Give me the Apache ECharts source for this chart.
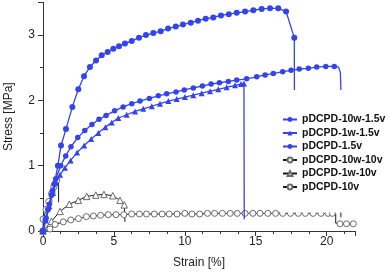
<!DOCTYPE html>
<html><head><meta charset="utf-8">
<script src="https://cdn.jsdelivr.net/npm/echarts@6/dist/echarts.min.js"></script>
<style>html,body{margin:0;padding:0;background:#fff}#c{width:390px;height:273px}</style>
</head><body><div id="c"></div>
<script>
const seriesNames = ['pDCPD-10w-1.5v','pDCPD-1w-1.5v','pDCPD-1.5v','pDCPD-10w-10v','pDCPD-1w-10v','pDCPD-10v'];
const xTicks = [0,5,10,15,20];
const yTicks = [0,1,2,3];

// pDCPD-10w-1.5v
const strainA = [0,0.17,0.35,0.6,0.8,1.05,1.27,1.62,2.07,2.49,2.89,3.31,3.74,4.14,4.56,4.96,5.36,5.78,6.26,6.77,7.26,7.78,8.30,8.82,9.36,9.87,10.42,10.93,11.47,12.01,12.55,13.10,13.66,14.25,14.83,15.42,16.01,16.59,17.14,17.72];
const stressA = [0,0.17,0.33,0.55,0.72,1.0,1.31,1.56,1.90,2.17,2.37,2.51,2.61,2.69,2.74,2.79,2.83,2.87,2.91,2.96,3.00,3.03,3.06,3.10,3.13,3.16,3.19,3.22,3.25,3.27,3.30,3.32,3.34,3.36,3.38,3.40,3.41,3.41,3.36,2.96];
const dropStrainA = [17.75];
const dropStressA = [0.3];

// pDCPD-1w-1.5v
const strainB = [0,0.2,0.45,0.7,0.92,1.2,1.55,1.95,2.4,2.9,3.4,3.9,4.4,4.85,5.31,5.90,6.49,7.07,7.67,8.25,8.84,9.43,10.01,10.60,11.19,11.78,12.36,12.95,13.54,13.96,14.17];
const stressB = [0,0.16,0.38,0.58,0.74,0.86,0.97,1.08,1.20,1.31,1.41,1.50,1.59,1.66,1.73,1.78,1.83,1.87,1.91,1.95,1.99,2.02,2.05,2.08,2.11,2.14,2.17,2.20,2.23,2.25,2.26];
const dropStrainB = [14.19];
const dropStressB = [0.18];

// pDCPD-1.5v
const strainC = [0,0.22,0.45,0.68,0.9,1.25,1.6,1.97,2.45,2.95,3.45,3.95,4.45,5.05,5.65,6.26,6.84,7.5,8.13,8.72,9.38,9.96,10.6,11.24,11.85,12.44,13.07,13.66,14.36,15.07,15.66,16.24,16.9,17.49,18.07,18.71,19.3,19.94,20.54];
const stressC = [0,0.2,0.41,0.62,0.8,1.0,1.15,1.29,1.43,1.54,1.63,1.71,1.77,1.84,1.90,1.95,1.99,2.03,2.07,2.10,2.13,2.16,2.19,2.22,2.25,2.27,2.29,2.31,2.33,2.36,2.39,2.41,2.44,2.46,2.48,2.49,2.51,2.52,2.52];
const dropStrainC = [20.85,20.97,21.0,21.0];
const dropStressC = [2.51,2.42,2.2,0.21];

// pDCPD-10w-10v
const strainD = [0,0.02,0.23,0.42,0.63,0.77,0.95];
const stressD = [0,0.18,0.33,0.45,0.58,0.68,0.78];
const dropStrainD = [1.1,1.1];
const dropStressD = [0.81,0.44];

// pDCPD-1w-10v
const strainE = [0,0.6,1.2,1.85,2.49,3.08,3.72,4.30,4.92,5.43,5.73];
const stressE = [0,0.15,0.30,0.41,0.47,0.53,0.55,0.56,0.54,0.47,0.40];
const dropStrainE = [5.78];
const dropStressE = [0.14];

// pDCPD-10v
const strainF = [0,0.49,0.85,1.43,1.96,2.5,3.06,3.55,4.06,4.6,5.15,5.7,6.25,6.8,7.3,7.85,8.4,8.9,9.45,10.0,10.5,11.05,11.6,12.1,12.65,13.2,13.7,14.25,14.8,15.3,15.85,16.4,16.9,17.45,18.0,18.5,19.05,19.6,20.1,20.4];
const stressF = [0,0.03,0.10,0.14,0.17,0.19,0.22,0.23,0.24,0.25,0.25,0.25,0.26,0.26,0.26,0.26,0.26,0.26,0.26,0.27,0.26,0.26,0.27,0.27,0.27,0.27,0.27,0.27,0.27,0.27,0.27,0.27,0.27,0.27,0.27,0.27,0.27,0.27,0.27,0.27];
const dropStrainF = [20.64,20.64];
const dropStressF = [0.27,0.12];
const afterStrainF = [20.94,21.4,21.88];
const afterStressF = [0.11,0.11,0.11];

function build(xs, ys, dx, dy, ax, ay) {
  const d = xs.map((x,i)=>[x, ys[i]]);
  (dx||[]).forEach((x,i)=>d.push({value:[x, dy[i]], symbol:'none'}));
  (ax||[]).forEach((x,i)=>d.push([x, ay[i]]));
  return d;
}

const BLUE = '#3343ee';
const BLACK = '#1a1a1a';
const GREY = '#6a6a6a';

function blueSeries(name, data, symbol, size) {
  return {name, type:'line', data, symbol, symbolSize:size, showSymbol:true, showAllSymbol:true,
    lineStyle:{color:BLUE, width:1.3}, itemStyle:{color:BLUE, borderWidth:0}, z:3};
}
function openSeries(name, data, symbol, size) {
  return {name, type:'line', data, symbol, symbolSize:size, showSymbol:true, showAllSymbol:true,
    lineStyle:{color:BLACK, width:1}, itemStyle:{color:'#fff', borderColor:GREY, borderWidth:1}, z:2};
}

const chart = echarts.init(document.getElementById('c'), null, {renderer:'canvas'});
chart.setOption({
  animation:false,
  backgroundColor:'#fff',
  grid:{left:43, right:35, top:2.4, bottom:42, outerBoundsMode:'none'},
  xAxis:{type:'value', min:0, max:22, interval:5,
    name:'Strain [%]', nameLocation:'middle', nameGap:26,
    nameTextStyle:{fontFamily:'Liberation Sans', fontSize:12, color:'#222'},
    axisLine:{lineStyle:{color:'#333', width:1}},
    axisTick:{show:true, inside:false, length:5, lineStyle:{color:'#333'}},
    minorTick:{show:true, splitNumber:4, length:3, lineStyle:{color:'#333'}},
    axisLabel:{margin:5, fontFamily:'Liberation Sans', fontSize:12, color:'#222', showMaxLabel:false,
      formatter:v=> xTicks.includes(v) ? String(v) : ''},
    splitLine:{show:false}},
  yAxis:{type:'value', min:0, max:3.5, interval:1,
    name:'Stress [MPa]', nameLocation:'middle', nameGap:28,
    nameTextStyle:{fontFamily:'Liberation Sans', fontSize:12, color:'#222'},
    axisLine:{show:true, lineStyle:{color:'#333', width:1}},
    axisTick:{show:true, inside:false, length:5, lineStyle:{color:'#333'}},
    minorTick:{show:true, splitNumber:2, length:3, lineStyle:{color:'#333'}},
    axisLabel:{margin:8, fontFamily:'Liberation Sans', fontSize:12, color:'#222', showMaxLabel:false,
      formatter:v=> yTicks.includes(v) ? String(v) : ''},
    splitLine:{show:false}},
  legend:{orient:'vertical', left:280, top:90, padding:[24,0,20,2], itemGap:2.5,
    itemWidth:14, itemHeight:6, backgroundColor:'#fff', data:seriesNames,
    textStyle:{fontFamily:'Liberation Sans', fontSize:10.5, fontWeight:'bold', color:'#111', lineHeight:11}},
  series:[
    blueSeries(seriesNames[0], build(strainA, stressA, dropStrainA, dropStressA), 'circle', 6),
    blueSeries(seriesNames[1], build(strainB, stressB, dropStrainB, dropStressB), 'triangle', 6),
    blueSeries(seriesNames[2], build(strainC, stressC, dropStrainC, dropStressC), 'circle', 5.5),
    openSeries(seriesNames[3], build(strainD, stressD, dropStrainD, dropStressD), 'circle', 6.5),
    openSeries(seriesNames[4], build(strainE, stressE, dropStrainE, dropStressE), 'triangle', 6.5),
    openSeries(seriesNames[5], build(strainF, stressF, dropStrainF, dropStressF, afterStrainF, afterStressF), 'circle', 6)
  ]
});
</script></body></html>
